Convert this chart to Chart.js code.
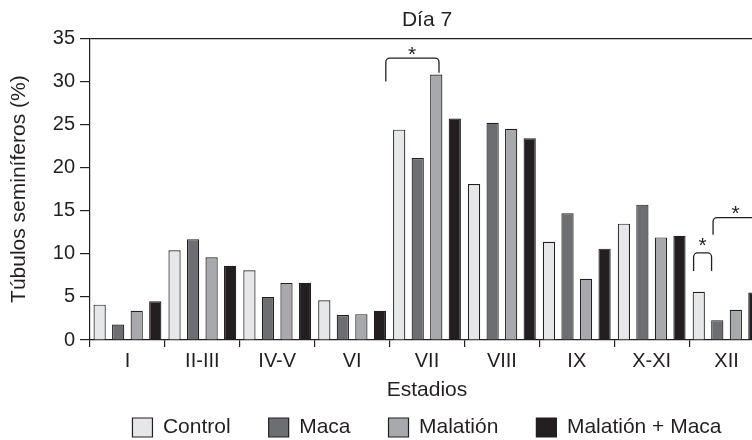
<!DOCTYPE html>
<html><head><meta charset="utf-8">
<script src="https://cdn.jsdelivr.net/npm/chart.js@4.4.0/dist/chart.umd.min.js"></script>
<style>
html,body{margin:0;padding:0;background:#fff;overflow:hidden}
#wrap{width:752px;height:440px;overflow:hidden;position:relative;background:#fff}
canvas{display:block}
</style></head><body>
<div id="wrap"><canvas id="c" width="780" height="448" style="width:780px;height:448px"></canvas></div>
<script>
// ---- data ----
const categories = ['I', 'II-III', 'IV-V', 'VI', 'VII', 'VIII', 'IX', 'X-XI', 'XII'];
const seriesNames = ['Control', 'Maca', 'Malatión', 'Malatión + Maca'];
const control = [4.1, 10.4, 8.1, 4.6, 24.4, 18.1, 11.4, 13.5, 5.6];
const maca = [1.8, 11.7, 5.0, 2.9, 21.1, 25.2, 14.7, 15.7, 2.3];
const malation = [3.4, 9.6, 6.6, 3.0, 30.8, 24.5, 7.1, 11.9, 3.5];
const malationMaca = [4.5, 8.6, 6.65, 3.4, 25.7, 23.4, 10.6, 12.1, 5.5];
const yMin = 0, yMax = 35, yStep = 5;
const titleText = 'Día 7';
const xTitle = 'Estadios';
const yTitle = 'Túbulos seminíferos (%)';

// significance annotations (category-axis units, value-axis units)
const brackets = [
  {x1: 3.45, x2: 4.16, top: 32.7, end1: 30.0, end2: 31.0},
  {x1: 7.56, x2: 7.80, top: 10.1, end1: 8.0, end2: 8.0},
  {x1: 7.82, x2: 8.95, top: 14.2, end1: 12.2, end2: 12.2}
];
const stars = [{x: 3.80, y: 33.8}, {x: 7.68, y: 11.6}, {x: 8.12, y: 15.3}];

// ---- style ----
const ink = '#231f20';
const fills = ['#e6e7e8', '#6d6e71', '#a7a9ac', '#231f20'];
const FONT = "'Liberation Sans', Arial, Helvetica, sans-serif";
Chart.defaults.font.family = FONT;
Chart.defaults.color = ink;

const values = [control, maca, malation, malationMaca];
const datasets = seriesNames.map((name, i) => ({
  label: name,
  data: values[i],
  backgroundColor: fills[i],
  borderColor: ink,
  borderWidth: 1.2,
  borderSkipped: 'bottom',
  categoryPercentage: 0.99,
  barPercentage: 0.66
}));

const annotate = {
  id: 'annotate',
  afterDatasetsDraw(chart) {
    const {ctx, scales: {x, y}} = chart;
    ctx.save();
    ctx.strokeStyle = ink;
    ctx.lineWidth = 1.3;
    const r = 4;
    brackets.forEach(b => {
      const px1 = x.getPixelForValue(b.x1), px2 = x.getPixelForValue(b.x2);
      const pt = y.getPixelForValue(b.top), pe1 = y.getPixelForValue(b.end1), pe2 = y.getPixelForValue(b.end2);
      ctx.beginPath();
      ctx.moveTo(px1, pe1);
      ctx.lineTo(px1, pt + r);
      ctx.arcTo(px1, pt, px1 + r, pt, r);
      ctx.lineTo(px2 - r, pt);
      ctx.arcTo(px2, pt, px2, pt + r, r);
      ctx.lineTo(px2, pe2);
      ctx.stroke();
    });
    ctx.fillStyle = ink;
    ctx.font = '21px ' + FONT;
    ctx.textAlign = 'center';
    ctx.textBaseline = 'alphabetic';
    stars.forEach(s => {
      ctx.fillText('*', x.getPixelForValue(s.x), y.getPixelForValue(s.y) + 12);
    });
    ctx.restore();
  }
};

new Chart(document.getElementById('c'), {
  type: 'bar',
  data: {labels: categories, datasets},
  plugins: [annotate],
  options: {
    responsive: false,
    animation: false,
    devicePixelRatio: 1,
    layout: {padding: {left: 0, right: 16, top: 0, bottom: 0}},
    plugins: {
      title: {display: true, text: titleText, fullSize: false, color: ink,
        font: {size: 21, weight: 'normal'}, padding: {top: 7.5, bottom: 5.6}},
      legend: {
        display: true, position: 'bottom', fullSize: false,
        labels: {boxWidth: 20, boxHeight: 19, padding: 38, color: ink, font: {size: 21}}
      },
      tooltip: {enabled: false}
    },
    scales: {
      x: {
        offset: true,
        grid: {offset: true, drawOnChartArea: false, drawTicks: true, tickLength: 7, tickColor: ink, lineWidth: 1.2},
        border: {display: true, color: ink, width: 1.2},
        ticks: {color: ink, font: {size: 20}, padding: 2, maxRotation: 0, autoSkip: false},
        title: {display: true, text: xTitle, color: ink, font: {size: 21}, padding: {top: 2.4, bottom: -23.6}}
      },
      y: {
        min: yMin, max: yMax,
        afterFit(s) { s.width = 90; },
        grid: {
          drawOnChartArea: true, drawTicks: true, tickLength: 10, lineWidth: 1.2,
          color: c => (c.tick && c.tick.value === yMax) ? ink : 'rgba(0,0,0,0)',
          tickColor: ink
        },
        border: {display: true, color: ink, width: 1.2},
        ticks: {stepSize: yStep, color: ink, font: {size: 20}, padding: 5},
        title: {display: true, text: yTitle, color: ink, font: {size: 21}, padding: {top: 7, bottom: 0}}
      }
    }
  }
});
</script>
</body></html>
